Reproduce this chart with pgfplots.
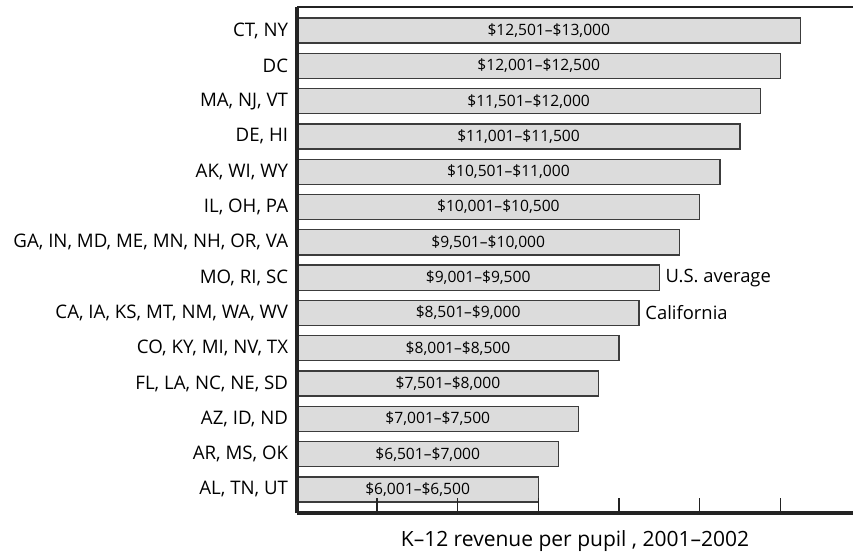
\documentclass[border=0pt]{standalone}
\usepackage{fontspec}
\setmainfont{Open Sans}
\usepackage{pgfplots}
\pgfplotsset{compat=1.18}
\usepackage{pgfplotstable}
\definecolor{barfill}{RGB}{220,220,220}
\definecolor{bardraw}{RGB}{60,60,60}
\definecolor{axisline}{RGB}{35,35,35}

\pgfplotstableread[col sep=semicolon]{
y;val;mid;range
0;6500;3510;\$6,001–\$6,500
1;7000;3760;\$6,501–\$7,000
2;7500;4010;\$7,001–\$7,500
3;8000;4260;\$7,501–\$8,000
4;8500;4510;\$8,001–\$8,500
5;9000;4760;\$8,501–\$9,000
6;9500;5010;\$9,001–\$9,500
7;10000;5260;\$9,501–\$10,000
8;10500;5510;\$10,001–\$10,500
9;11000;5760;\$10,501–\$11,000
10;11500;6010;\$11,001–\$11,500
11;12000;6260;\$11,501–\$12,000
12;12500;6510;\$12,001–\$12,500
13;13000;6760;\$12,501–\$13,000
}\revtable

\begin{document}
\begin{tikzpicture}
\begin{axis}[
  name=ax,
  at={(0pt,0pt)}, anchor=south west,
  scale only axis,
  width=417pt, height=379.5pt,
  xmin=520, xmax=14300,
  ymin=-0.666, ymax=13.666,
  axis x line*=bottom, axis y line*=left,
  x axis line style={-, line width=2.6pt, color=axisline},
  y axis line style={-, line width=3pt, color=axisline},
  xtick={2500,4500,6500,8500,10500,12500},
  xticklabels={,,,,,},
  scaled x ticks=false,
  tick align=inside,
  major tick length=11pt,
  xtick style={line width=1.1pt, color=axisline},
  ytick={0,...,13},
  yticklabels={{AL, TN, UT},{AR, MS, OK},{AZ, ID, ND},{FL, LA, NC, NE, SD},{CO, KY, MI, NV, TX},{CA, IA, KS, MT, NM, WA, WV},{MO, RI, SC},{GA, IN, MD, ME, MN, NH, OR, VA},{IL, OH, PA},{AK, WI, WY},{DE, HI},{MA, NJ, VT},{DC},{CT, NY}},
  ytick style={draw=none},
  yticklabel style={font=\fontsize{14}{16}\selectfont, inner sep=0pt, xshift=-6.5pt, anchor=east},
  xlabel={K–12 revenue per pupil , 2001–2002},
  xlabel style={at={(axis description cs:0.5,0)}, anchor=center, yshift=-21pt, font=\fontsize{15.75}{18}\selectfont},
  axis on top,
  clip=false,
]
\addplot[xbar, bar width=0.71, fill=barfill, draw=bardraw, line width=1pt]
  table[x=val, y=y] {\revtable};
\addplot[only marks, mark=none, nodes near coords, point meta=explicit symbolic,
  every node near coord/.append style={anchor=center, font=\fontsize{11.7}{14}\selectfont, text=black}]
  table[x=mid, y=y, meta=range] {\revtable};
\node[anchor=west, font=\fontsize{13.8}{16}\selectfont, inner sep=0pt] at (axis cs:9650,6) {U.S. average};
\node[anchor=west, font=\fontsize{13.8}{16}\selectfont, inner sep=0pt] at (axis cs:9150,5) {California};
\end{axis}
\draw[line width=0.8pt, color=axisline] (ax.north west) -- (ax.north east);
\pgfresetboundingbox
\path ([shift={(-222.75pt,-28.5pt)}]ax.south west) rectangle ([shift={(0pt,5.25pt)}]ax.north east);
\end{tikzpicture}
\end{document}
